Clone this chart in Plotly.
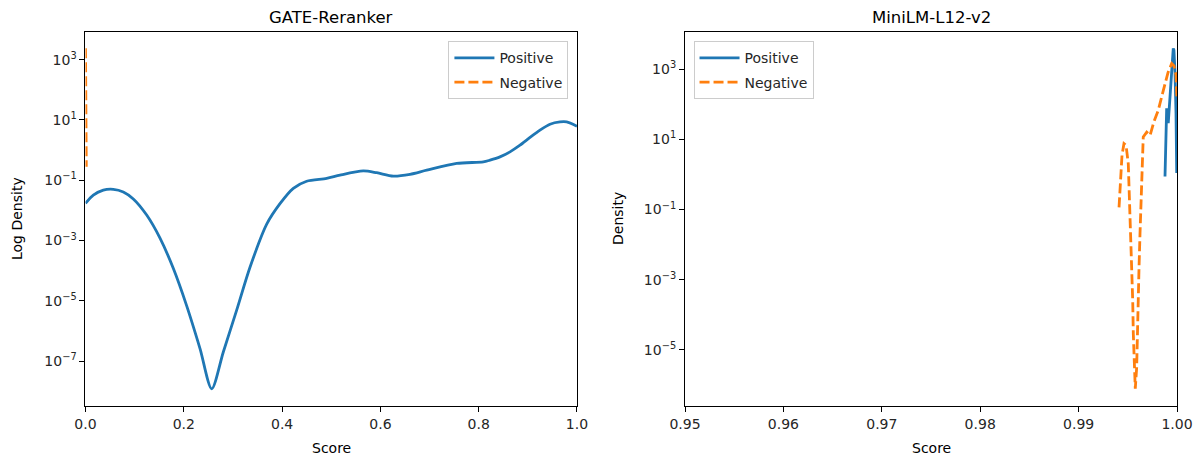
import plotly.graph_objects as go

# ---------------- data ----------------
# GATE-Reranker
gate_pos_score = [0.0, 0.0159, 0.0362, 0.0566, 0.0769, 0.0973, 0.1245, 0.1516, 0.1786, 0.2059,
                  0.2330, 0.2568, 0.2804, 0.3076, 0.3347, 0.3687, 0.3957, 0.4228, 0.4500,
                  0.4907, 0.5178, 0.5652, 0.5925, 0.6262, 0.6602, 0.6942, 0.7552, 0.8094, 0.8230,
                  0.8433, 0.8637, 0.8840, 0.9044, 0.9247, 0.9451, 0.9654, 0.9790, 1.0]
gate_pos_density = [1.7e-2, 3.2e-2, 4.7e-2, 5.0e-2, 4.1e-2, 2.4e-2, 7.0e-3, 1.2e-3, 1.2e-4, 6.8e-6,
                    2.6e-7, 1.2e-8, 2.0e-7, 4.9e-6, 1.3e-4, 3.5e-3, 1.67e-2, 5.4e-2, 9.3e-2,
                    0.115, 0.148, 0.204, 0.178, 0.138, 0.158, 0.216, 0.363, 0.407, 0.464,
                    0.597, 0.875, 1.46, 2.63, 4.59, 7.26, 8.65, 8.65, 6.2]
gate_neg_score = [0.0, 0.0004, 0.0008, 0.0012, 0.0016]
gate_neg_density = [2400, 300, 30, 3, 0.28]

# MiniLM-L12-v2
mini_pos_score = [0.99878, 0.99887, 0.99895, 0.99911, 0.99929, 0.99944, 0.99958, 0.99962,
                  0.99969, 0.99980, 0.99990, 0.99997]
mini_pos_density = [0.87, 20, 77, 29, 190, 1000, 3700, 3900, 3500, 780, 55, 1.1]
mini_neg_score = [0.99411, 0.99421, 0.99441, 0.99461, 0.99482, 0.99505, 0.99522, 0.99533,
                  0.99540, 0.99550, 0.99556, 0.99566, 0.99576, 0.99590, 0.99596, 0.99606,
                  0.99614, 0.99624, 0.99634, 0.99641, 0.99657, 0.99692, 0.99726, 0.99766,
                  0.99810, 0.99848, 0.99878, 0.99909, 0.99946, 0.99970, 0.99990, 1.0]
mini_neg_density = [0.115, 0.49, 3.5, 7.6, 6.8, 2.0, 0.093, 0.020,
                    2.2e-3, 2.5e-4, 2.9e-5, 3.1e-6, 7.8e-7, 3.1e-6, 2.9e-5, 2.5e-4,
                    2.2e-3, 0.020, 0.18, 1.3, 11.7, 16, 13, 32,
                    68, 180, 400, 810, 1450, 1230, 680, 130]

left_xticks = [0.0, 0.2, 0.4, 0.6, 0.8, 1.0]
left_xticklabels = ["0.0", "0.2", "0.4", "0.6", "0.8", "1.0"]
right_xticks = [0.95, 0.96, 0.97, 0.98, 0.99, 1.00]
right_xticklabels = ["0.95", "0.96", "0.97", "0.98", "0.99", "1.00"]
left_yexp = [3, 1, -1, -3, -5, -7]
right_yexp = [3, 1, -1, -3, -5]

BLUE = "#1f77b4"
ORANGE = "#ff7f0e"
FONT = "DejaVu Sans"


def sup(e):
    s = str(e).replace("-", "\u2212")
    return f"10<sup>{s}</sup>"


fig = go.Figure()

fig.add_trace(go.Scatter(x=gate_pos_score, y=gate_pos_density, mode="lines", name="Positive",
                         line=dict(color=BLUE, width=2.8, shape="spline", smoothing=0.8),
                         xaxis="x", yaxis="y", legend="legend", legendgroup="a"))
fig.add_trace(go.Scatter(x=gate_neg_score, y=gate_neg_density, mode="lines", name="Negative",
                         line=dict(color=ORANGE, width=2.8, dash="10px,4px"),
                         xaxis="x", yaxis="y", legend="legend", legendgroup="b"))
fig.add_trace(go.Scatter(x=mini_pos_score, y=mini_pos_density, mode="lines", name="Positive",
                         line=dict(color=BLUE, width=2.8),
                         xaxis="x2", yaxis="y2", legend="legend2", legendgroup="c"))
fig.add_trace(go.Scatter(x=mini_neg_score, y=mini_neg_density, mode="lines", name="Negative",
                         line=dict(color=ORANGE, width=2.8, dash="10px,4px"),
                         xaxis="x2", yaxis="y2", legend="legend2", legendgroup="d"))

ydom = [0.1155, 0.9303]
axis_common = dict(showline=True, linecolor="black", linewidth=1.1, mirror=True,
                   ticks="outside", ticklen=5, tickwidth=1.1, tickcolor="black",
                   showgrid=False, zeroline=False, automargin=False,
                   tickfont=dict(family=FONT, size=14, color="#262626"))

legend_common = dict(bgcolor="rgba(255,255,255,0.8)", bordercolor="#cccccc", borderwidth=1,
                     font=dict(family=FONT, size=14, color="#262626"),
                     tracegroupgap=3, itemwidth=40)

fig.update_layout(
    width=1203, height=459,
    margin=dict(l=0, r=0, t=0, b=0, autoexpand=False),
    paper_bgcolor="white", plot_bgcolor="white",
    font=dict(family=FONT, size=14, color="black"),
    xaxis=dict(domain=[0.07107, 0.47963], range=[0, 1], tickvals=left_xticks,
               ticktext=left_xticklabels, anchor="y", **axis_common),
    yaxis=dict(domain=ydom, type="log", range=[-8.49, 3.92],
               tickvals=[10 ** e for e in left_yexp], ticktext=[sup(e) for e in left_yexp],
               anchor="x", **axis_common),
    xaxis2=dict(domain=[0.56941, 0.97839], range=[0.95, 1.0], tickvals=right_xticks,
                ticktext=right_xticklabels, anchor="y2", **axis_common),
    yaxis2=dict(domain=ydom, type="log", range=[-6.6, 4.06],
                tickvals=[10 ** e for e in right_yexp], ticktext=[sup(e) for e in right_yexp],
                anchor="x2", **axis_common),
    legend=dict(x=0.4725, y=0.91, xanchor="right", yanchor="top", **legend_common),
    legend2=dict(x=0.5765, y=0.91, xanchor="left", yanchor="top", **legend_common),
    showlegend=True,
)

text_font = dict(family=FONT, size=14, color="black")
fig.add_annotation(text="GATE-Reranker", x=0.2753, y=1 - 18 / 459, xref="paper", yref="paper",
                   showarrow=False, font=dict(family=FONT, size=16.5, color="black"),
                   xanchor="center", yanchor="middle")
fig.add_annotation(text="MiniLM-L12-v2", x=0.7739, y=1 - 18 / 459, xref="paper", yref="paper",
                   showarrow=False, font=dict(family=FONT, size=16.5, color="black"),
                   xanchor="center", yanchor="middle")
fig.add_annotation(text="Score", x=0.2753, y=1 - 448 / 459, xref="paper", yref="paper",
                   showarrow=False, font=text_font, xanchor="center", yanchor="middle")
fig.add_annotation(text="Score", x=0.7739, y=1 - 448 / 459, xref="paper", yref="paper",
                   showarrow=False, font=text_font, xanchor="center", yanchor="middle")
fig.add_annotation(text="Log Density", x=17 / 1203, y=1 - 219 / 459, xref="paper", yref="paper",
                   showarrow=False, textangle=-90, font=text_font,
                   xanchor="center", yanchor="middle")
fig.add_annotation(text="Density", x=618 / 1203, y=1 - 219 / 459, xref="paper", yref="paper",
                   showarrow=False, textangle=-90, font=text_font,
                   xanchor="center", yanchor="middle")

fig.write_html("out.html", config={"displayModeBar": False},
               post_script="document.body.style.margin='0';document.body.style.overflow='hidden';")
